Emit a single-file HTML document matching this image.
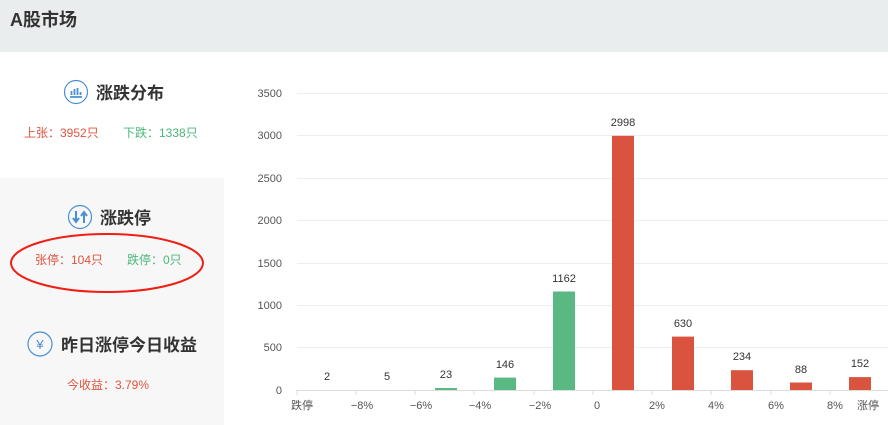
<!DOCTYPE html>
<html><head><meta charset="utf-8"><style>
body{margin:0;width:888px;height:425px;overflow:hidden;background:#fff;font-family:"Liberation Sans","Noto Sans CJK SC",sans-serif;}
</style></head><body>
<svg width="888" height="425" xmlns="http://www.w3.org/2000/svg" style="position:absolute;left:0;top:0;font-family:'Liberation Sans','Noto Sans CJK SC',sans-serif">
<rect x="0" y="0" width="888" height="52" fill="#eaedee"/>
<text x="10" y="26" font-size="18" font-weight="bold" fill="#333">A股市场</text>
<rect x="0" y="178" width="224" height="247" fill="#f7f7f7"/>
<!-- panel 1 -->
<circle cx="76" cy="92" r="11.5" fill="none" stroke="#4a8fd6" stroke-width="1.2"/>
<path d="M70 97h12M71.5 95v-4M74.5 95v-6M77.5 95v-7M80.5 95v-3" stroke="#4a8fd6" stroke-width="1.8"/>
<text x="96" y="99" font-size="17" font-weight="bold" fill="#333">涨跌分布</text>
<text x="24" y="137" font-size="12" fill="#e0533f">上张：3952只</text>
<text x="123" y="137" font-size="12" fill="#4cb77a">下跌：1338只</text>
<!-- panel 2 -->
<circle cx="80" cy="217" r="11.5" fill="none" stroke="#4a8fd6" stroke-width="1.2"/>
<path d="M76 211v10M73 218l3 4 3-4M84 223v-10M81 216l3-4 3 4" stroke="#4a8fd6" stroke-width="2" fill="none"/>
<text x="100" y="224" font-size="17" font-weight="bold" fill="#333">涨跌停</text>
<text x="35" y="264" font-size="12" fill="#e0533f">张停：104只</text>
<text x="127" y="264" font-size="12" fill="#4cb77a">跌停：0只</text>
<ellipse cx="107" cy="263" rx="96" ry="29" fill="none" stroke="#f01e14" stroke-width="2"/>
<!-- panel 3 -->
<circle cx="40" cy="344" r="12" fill="none" stroke="#4a8fd6" stroke-width="1.2"/>
<text x="40" y="349" font-size="13" fill="#4a8fd6" text-anchor="middle">¥</text>
<text x="61" y="351" font-size="17" font-weight="bold" fill="#333">昨日涨停今日收益</text>
<text x="67" y="389" font-size="12" fill="#e0533f">今收益：3.79%</text>
<!-- chart -->
<g stroke="#eeeeee" stroke-width="1">
<line x1="297" x2="888" y1="93.5" y2="93.5"/><line x1="297" x2="888" y1="135.5" y2="135.5"/>
<line x1="297" x2="888" y1="178.5" y2="178.5"/><line x1="297" x2="888" y1="220.5" y2="220.5"/>
<line x1="297" x2="888" y1="263.5" y2="263.5"/><line x1="297" x2="888" y1="305.5" y2="305.5"/>
<line x1="297" x2="888" y1="347.5" y2="347.5"/>
</g>
<g font-size="11" fill="#555" text-anchor="end">
<text x="282" y="97">3500</text><text x="282" y="139">3000</text><text x="282" y="182">2500</text>
<text x="282" y="224">2000</text><text x="282" y="267">1500</text><text x="282" y="309">1000</text>
<text x="282" y="351">500</text><text x="282" y="394">0</text>
</g>
<line x1="296" x2="888" y1="390.5" y2="390.5" stroke="#ddd"/>
<g stroke="#ddd"><line x1="297" x2="297" y1="390" y2="395"/><line x1="356" x2="356" y1="390" y2="395"/><line x1="415" x2="415" y1="390" y2="395"/><line x1="474" x2="474" y1="390" y2="395"/><line x1="534" x2="534" y1="390" y2="395"/><line x1="593" x2="593" y1="390" y2="395"/><line x1="652" x2="652" y1="390" y2="395"/><line x1="711" x2="711" y1="390" y2="395"/><line x1="771" x2="771" y1="390" y2="395"/><line x1="830" x2="830" y1="390" y2="395"/></g>
<g font-size="11" fill="#555" text-anchor="middle">
<text x="302" y="409">跌停</text><text x="362" y="409">−8%</text><text x="421" y="409">−6%</text>
<text x="480" y="409">−4%</text><text x="540" y="409">−2%</text><text x="597" y="409">0</text>
<text x="657" y="409">2%</text><text x="716" y="409">4%</text><text x="776" y="409">6%</text>
<text x="835" y="409">8%</text><text x="868" y="409">涨停</text>
</g>
<g fill="#5ab883">
<rect x="435" y="388" width="22" height="2"/>
<rect x="494" y="377.6" width="22" height="12.4"/>
<rect x="553" y="291.5" width="22" height="98.5"/>
</g>
<g fill="#d9533f">
<rect x="612" y="135.8" width="22" height="254.2"/>
<rect x="672" y="336.6" width="22" height="53.4"/>
<rect x="731" y="370.2" width="22" height="19.8"/>
<rect x="790" y="382.5" width="22" height="7.5"/>
<rect x="849" y="377.1" width="22" height="12.9"/>
</g>
<g font-size="11" fill="#333" text-anchor="middle">
<text x="327" y="380">2</text><text x="387" y="380">5</text><text x="446" y="378">23</text>
<text x="505" y="368">146</text><text x="564" y="282">1162</text><text x="623" y="126">2998</text>
<text x="683" y="327">630</text><text x="742" y="360">234</text><text x="801" y="373">88</text>
<text x="860" y="367">152</text>
</g>
</svg>
</body></html>
